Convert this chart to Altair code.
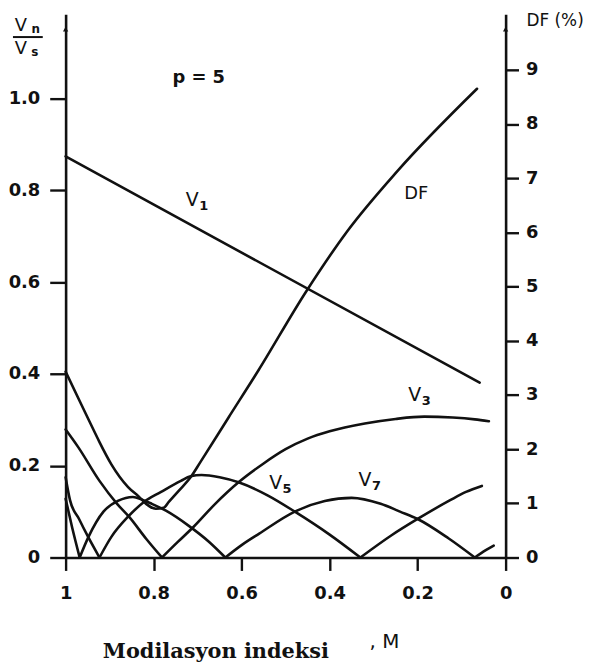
import altair as alt
import pandas as pd

# ---------------- data ----------------
M_V1 = [1.0, 0.059]
V1 = [0.874, 0.381]

M_V3 = [1.0, 0.971, 0.923, 0.883, 0.856, 0.817, 0.781, 0.745, 0.709, 0.66, 0.607,
        0.55, 0.50, 0.45, 0.40, 0.32, 0.25, 0.185, 0.12, 0.07, 0.038]
V3 = [0.279, 0.240, 0.167, 0.117, 0.089, 0.041, 0.0, 0.034, 0.067, 0.117, 0.164,
      0.205, 0.236, 0.259, 0.275, 0.292, 0.302, 0.307, 0.305, 0.301, 0.297]

M_V5 = [1.0, 0.99, 0.97, 0.95, 0.923, 0.896, 0.858, 0.822, 0.783, 0.738, 0.716,
        0.691, 0.65, 0.607, 0.54, 0.479, 0.40, 0.33, 0.26, 0.2, 0.126, 0.09, 0.054]
V5 = [0.175, 0.125, 0.085, 0.047, 0.0, 0.045, 0.089, 0.121, 0.143, 0.167, 0.177,
      0.180, 0.175, 0.164, 0.135, 0.10, 0.05, 0.0, 0.048, 0.084, 0.125, 0.143, 0.156]

M_V7 = [1.0, 0.985, 0.968, 0.948, 0.914, 0.88, 0.847, 0.826, 0.804, 0.772, 0.72,
        0.675, 0.637, 0.60, 0.56, 0.479, 0.411, 0.35, 0.284, 0.24, 0.2, 0.13,
        0.07, 0.045, 0.027]
V7 = [0.128, 0.065, 0.0, 0.045, 0.10, 0.124, 0.132, 0.126, 0.117, 0.102, 0.069,
      0.035, 0.0, 0.027, 0.052, 0.10, 0.123, 0.13, 0.117, 0.10, 0.084, 0.042,
      0.0, 0.016, 0.026]

M_DF = [1.0, 0.964, 0.935, 0.923, 0.896, 0.858, 0.833, 0.817, 0.795, 0.777, 0.765,
        0.743, 0.716, 0.693, 0.63, 0.562, 0.454, 0.359, 0.246, 0.065]
DF = [3.43, 2.82, 2.33, 2.13, 1.72, 1.30, 1.12, 0.99, 0.90, 0.92, 1.03,
      1.23, 1.48, 1.77, 2.58, 3.45, 4.90, 6.03, 7.13, 8.65]

X_TICKS = [1.0, 0.8, 0.6, 0.4, 0.2, 0.0]
Y_TICKS = [0.0, 0.2, 0.4, 0.6, 0.8, 1.0]
DF_TICKS = [0, 1, 2, 3, 4, 5, 6, 7, 8, 9]

# curve labels: (main text, subscript, M, value)
V_LABELS = [("V", "1", 0.712, 0.780), ("V", "3", 0.2065, 0.355),
            ("V", "5", 0.5226, 0.1623), ("V", "7", 0.3194, 0.1699)]
DF_LABEL = ("DF", 0.2032, 6.70)
P_LABEL = ("p = 5", 0.6975, 1.044)

# ---------------- layout ----------------
W, H = 443, 547
V_TOP = 547 / 462.0
DF_TOP = 547 / 54.56
FONT = "DejaVu Sans"
INK = "#111111"


def arcs(name, ms, vs):
    rows, seg = [], 0
    for i, (m, v) in enumerate(zip(ms, vs)):
        rows.append(dict(seg=f"{name}-{seg}", M=m, V=v, i=len(rows)))
        if v == 0 and 0 < i < len(ms) - 1:
            seg += 1
            rows.append(dict(seg=f"{name}-{seg}", M=m, V=v, i=len(rows)))
    return rows


rows = []
rows += arcs("V1", M_V1, V1)
rows += arcs("V3", M_V3, V3)
rows += arcs("V5", M_V5, V5)
rows += arcs("V7", M_V7, V7)
harm_df = pd.DataFrame(rows)
df_df = pd.DataFrame({"M": M_DF, "DF": DF, "i": list(range(len(M_DF)))})

xscale = alt.Scale(domain=[0, 1], reverse=True, nice=False)
xaxis = alt.Axis(values=X_TICKS, grid=False, tickSize=13, tickWidth=2.4,
                 tickColor=INK, domainColor=INK, domainWidth=2.6,
                 labelFont=FONT, labelFontSize=18, labelFontWeight="bold",
                 labelColor=INK, labelPadding=14, labelFlush=False,
                 labelOverlap=False,
                 labelExpr="datum.value == 1 ? '1' : datum.value == 0 ? '0' : format(datum.value, '.1f')",
                 title="Modilasyon indeksi", titleFont="DejaVu Serif",
                 titleFontSize=21, titleFontWeight="bold", titleColor=INK,
                 titleAlign="left", titleAnchor="start", titleBaseline="alphabetic",
                 titleX=37, titleY=101)
yscale = alt.Scale(domain=[0, V_TOP], nice=False, zero=True)
yaxis = alt.Axis(values=Y_TICKS, grid=False, tickSize=16, tickWidth=2.4,
                 tickColor=INK, domainColor=INK, domainWidth=2.6,
                 labelFont=FONT, labelFontSize=18, labelFontWeight="bold",
                 labelColor=INK, labelPadding=10, labelOverlap=False,
                 labelExpr="datum.value == 0 ? '0' : format(datum.value, '.1f')",
                 title="")
dfscale = alt.Scale(domain=[0, DF_TOP], nice=False, zero=True)
dfaxis = alt.Axis(orient="right", values=DF_TICKS, grid=False, tickSize=13,
                  tickWidth=2.4, tickColor=INK, domainColor=INK, domainWidth=2.6,
                  labelFont=FONT, labelFontSize=18, labelFontWeight="bold",
                  labelColor=INK, labelPadding=7, labelOverlap=False,
                  title="")

X = alt.X("M:Q", scale=xscale, axis=xaxis)

line_style = dict(color=INK, strokeWidth=2.6, interpolate="monotone",
                  strokeCap="round", strokeJoin="round")

harm = alt.Chart(harm_df).mark_line(**line_style).encode(
    x=X, y=alt.Y("V:Q", scale=yscale, axis=yaxis),
    detail="seg:N", order="i:Q")

# curve labels
lab_layers = []
for main, sub, m, v in V_LABELS:
    d = pd.DataFrame({"M": [m], "V": [v], "t": [main], "s": [sub]})
    base = alt.Chart(d)
    lab_layers.append(base.mark_text(font=FONT, fontSize=19, color=INK,
                                     align="center", baseline="middle").encode(
        x=X, y=alt.Y("V:Q", scale=yscale, axis=yaxis), text="t:N"))
    lab_layers.append(base.mark_text(font=FONT, fontSize=13, fontWeight="bold",
                                     color=INK, align="center", baseline="middle",
                                     dx=11.5, dy=6.5).encode(
        x=X, y=alt.Y("V:Q", scale=yscale, axis=yaxis), text="s:N"))

p_d = pd.DataFrame({"M": [P_LABEL[1]], "V": [P_LABEL[2]], "t": [P_LABEL[0]]})
p_text = alt.Chart(p_d).mark_text(font=FONT, fontSize=18, fontWeight="bold",
                                  color=INK, align="center",
                                  baseline="middle").encode(
    x=X, y=alt.Y("V:Q", scale=yscale, axis=yaxis), text="t:N")

# axis-title annotations (left fraction Vn / Vs, arrows, ", M", "DF (%)")
one = pd.DataFrame({"k": [0]})
ann = alt.Chart(one)
frac = [
    ann.mark_text(font=FONT, fontSize=18, color=INK, align="center",
                  baseline="middle").encode(x=alt.value(-45), y=alt.value(12), text=alt.value("V")),
    ann.mark_text(font=FONT, fontSize=12, fontWeight="bold", color=INK, align="center",
                  baseline="middle").encode(x=alt.value(-30), y=alt.value(15), text=alt.value("n")),
    ann.mark_rule(color=INK, strokeWidth=2).encode(x=alt.value(-53), x2=alt.value(-23),
                                                    y=alt.value(23)),
    ann.mark_text(font=FONT, fontSize=18, color=INK, align="center",
                  baseline="middle").encode(x=alt.value(-45), y=alt.value(35), text=alt.value("V")),
    ann.mark_text(font=FONT, fontSize=12, fontWeight="bold", color=INK, align="center",
                  baseline="middle").encode(x=alt.value(-31), y=alt.value(38), text=alt.value("s")),
    ann.mark_point(shape="triangle-up", filled=True, color=INK, size=28, opacity=1).encode(
        x=alt.value(0), y=alt.value(15)),
    ann.mark_point(shape="triangle-up", filled=True, color=INK, size=28, opacity=1).encode(
        x=alt.value(W), y=alt.value(15)),
    ann.mark_text(font=FONT, fontSize=17, color=INK, align="left",
                  baseline="middle").encode(x=alt.value(464), y=alt.value(7), text=alt.value("DF (%)")),
    ann.mark_text(font=FONT, fontSize=20, color=INK, align="left",
                  baseline="alphabetic").encode(x=alt.value(306), y=alt.value(638), text=alt.value(", M")),
]

left = alt.layer(harm, *lab_layers, p_text, *frac)

dfline = alt.Chart(df_df).mark_line(**line_style).encode(
    x=X, y=alt.Y("DF:Q", scale=dfscale, axis=dfaxis), order="i:Q")
dl = pd.DataFrame({"M": [DF_LABEL[1]], "DF": [DF_LABEL[2]], "t": [DF_LABEL[0]]})
dftext = alt.Chart(dl).mark_text(font=FONT, fontSize=18, color=INK, align="center",
                                 baseline="middle").encode(
    x=X, y=alt.Y("DF:Q", scale=dfscale, axis=dfaxis), text="t:N")
right = alt.layer(dfline, dftext)

chart = alt.layer(left, right).resolve_scale(y="independent").properties(
    width=W, height=H,
    autosize=alt.AutoSizeParams(type="none"),
    padding={"left": 58, "top": 4, "right": 90, "bottom": 112},
    background="white",
).configure_view(strokeWidth=0)

chart.save("out.html", embed_options={"renderer": "svg", "actions": False})
